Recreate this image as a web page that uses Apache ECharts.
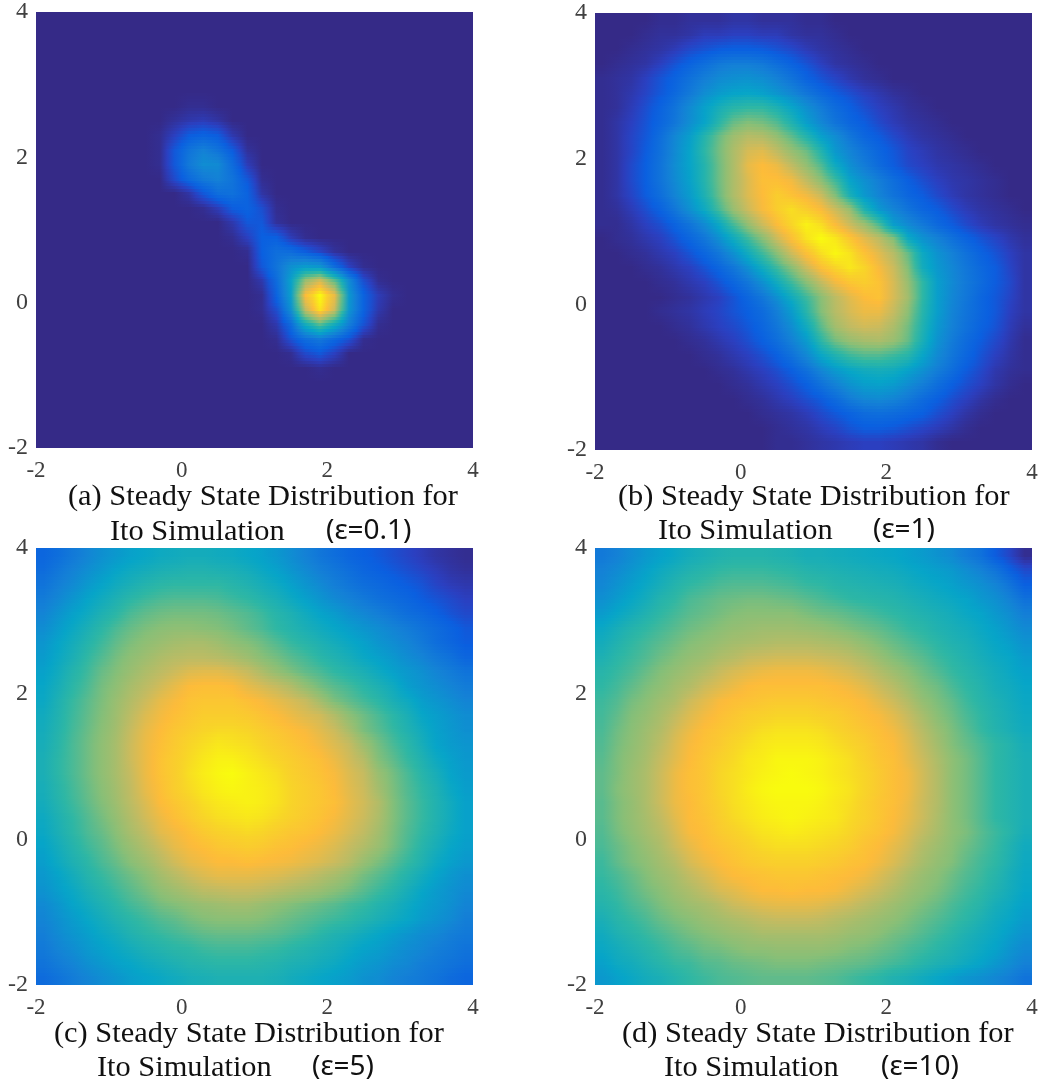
<!DOCTYPE html>
<html><head><meta charset="utf-8">
<style>html,body{margin:0;padding:0;background:#fff}#c{width:1042px;height:1085px}</style>
<script src="https://cdn.jsdelivr.net/npm/echarts@6/dist/echarts.min.js"></script>
</head><body><div id="c"></div>
<script>
const xCenters=[-1.9,-1.7,-1.5,-1.3,-1.1,-0.9,-0.7,-0.5,-0.3,-0.1,0.1,0.3,0.5,0.7,0.9,1.1,1.3,1.5,1.7,1.9,2.1,2.3,2.5,2.7,2.9,3.1,3.3,3.5,3.7,3.9];
const yCenters=[3.9,3.7,3.5,3.3,3.1,2.9,2.7,2.5,2.3,2.1,1.9,1.7,1.5,1.3,1.1,0.9,0.7,0.5,0.3,0.1,-0.1,-0.3,-0.5,-0.7,-0.9,-1.1,-1.3,-1.5,-1.7,-1.9];
const tickLabels=[-2,0,2,4];
const captionLine1=["(a) Steady State Distribution for","(b) Steady State Distribution for","(c) Steady State Distribution for","(d) Steady State Distribution for"];
const captionLine2="Ito Simulation";
const captionEps=["(ε=0.1)","(ε=1)","(ε=5)","(ε=10)"];
const panelA=[
[0,0,0,0,0,0,0,0,0,0,0,0,0,0,0,0,0,0,0,0,0,0,0,0,0,0,0,0,0,0],
[0,0,0,0,0,0,0,0,0,0,0,0,0,0,0,0,0,0,0,0,0,0,0,0,0,0,0,0,0,0],
[0,0,0,0,0,0,0,0,0,0,0,0,0,0,0,0,0,0,0,0,0,0,0,0,0,0,0,0,0,0],
[0,0,0,0,0,0,0,0,0,0,0,0,0,0,0,0,0,0,0,0,0,0,0,0,0,0,0,0,0,0],
[0,0,0,0,0,0,0,0,0,0,0,0,0,0,0,0,0,0,0,0,0,0,0,0,0,0,0,0,0,0],
[0,0,0,0,0,0,0,0,0,0,0,0,0,0,0,0,0,0,0,0,0,0,0,0,0,0,0,0,0,0],
[0,0,0,0,0,0,0,0,0,0,1,1,0,0,0,0,0,0,0,0,0,0,0,0,0,0,0,0,0,0],
[0,0,0,0,0,0,0,0,0,2,4,5,3,0,0,0,0,0,0,0,0,0,0,0,0,0,0,0,0,0],
[0,0,0,0,0,0,0,0,1,6,12,14,12,4,0,0,0,0,0,0,0,0,0,0,0,0,0,0,0,0],
[0,0,0,0,0,0,0,0,1,11,20,25,20,12,2,0,0,0,0,0,0,0,0,0,0,0,0,0,0,0],
[0,0,0,0,0,0,0,0,1,11,22,29,28,17,5,0,0,0,0,0,0,0,0,0,0,0,0,0,0,0],
[0,0,0,0,0,0,0,0,0,8,16,22,25,20,11,1,0,0,0,0,0,0,0,0,0,0,0,0,0,0],
[0,0,0,0,0,0,0,0,0,0,3,11,18,19,14,3,0,0,0,0,0,0,0,0,0,0,0,0,0,0],
[0,0,0,0,0,0,0,0,0,0,0,1,5,12,14,9,1,0,0,0,0,0,0,0,0,0,0,0,0,0],
[0,0,0,0,0,0,0,0,0,0,0,0,0,4,11,11,2,0,0,0,0,0,0,0,0,0,0,0,0,0],
[0,0,0,0,0,0,0,0,0,0,0,0,0,1,6,13,13,5,1,0,0,0,0,0,0,0,0,0,0,0],
[0,0,0,0,0,0,0,0,0,0,0,0,0,0,1,13,18,17,12,7,2,0,0,0,0,0,0,0,0,0],
[0,0,0,0,0,0,0,0,0,0,0,0,0,0,0,11,20,30,34,32,17,6,1,0,0,0,0,0,0,0],
[0,0,0,0,0,0,0,0,0,0,0,0,0,0,0,4,17,36,66,77,56,28,9,1,0,0,0,0,0,0],
[0,0,0,0,0,0,0,0,0,0,0,0,0,0,0,1,14,35,85,100,82,33,14,5,1,0,0,0,0,0],
[0,0,0,0,0,0,0,0,0,0,0,0,0,0,0,1,9,30,74,95,76,32,14,4,0,0,0,0,0,0],
[0,0,0,0,0,0,0,0,0,0,0,0,0,0,0,0,4,17,42,56,42,24,10,1,0,0,0,0,0,0],
[0,0,0,0,0,0,0,0,0,0,0,0,0,0,0,0,1,10,18,22,16,10,1,0,0,0,0,0,0,0],
[0,0,0,0,0,0,0,0,0,0,0,0,0,0,0,0,0,1,8,11,6,0,0,0,0,0,0,0,0,0],
[0,0,0,0,0,0,0,0,0,0,0,0,0,0,0,0,0,0,0,1,0,0,0,0,0,0,0,0,0,0],
[0,0,0,0,0,0,0,0,0,0,0,0,0,0,0,0,0,0,0,0,0,0,0,0,0,0,0,0,0,0],
[0,0,0,0,0,0,0,0,0,0,0,0,0,0,0,0,0,0,0,0,0,0,0,0,0,0,0,0,0,0],
[0,0,0,0,0,0,0,0,0,0,0,0,0,0,0,0,0,0,0,0,0,0,0,0,0,0,0,0,0,0],
[0,0,0,0,0,0,0,0,0,0,0,0,0,0,0,0,0,0,0,0,0,0,0,0,0,0,0,0,0,0],
[0,0,0,0,0,0,0,0,0,0,0,0,0,0,0,0,0,0,0,0,0,0,0,0,0,0,0,0,0,0]];
const panelB=[
[0,0,0,0,1,1,2,2,2,3,3,2,2,2,1,1,0,0,0,0,0,0,0,0,0,0,0,0,0,0],
[0,0,0,1,2,2,3,5,5,6,6,5,5,3,2,2,1,0,0,0,0,0,0,0,0,0,0,0,0,0],
[0,0,1,2,3,5,8,10,12,13,13,12,10,8,5,3,2,1,0,0,0,0,0,0,0,0,0,0,0,0],
[0,1,2,3,6,10,14,18,22,24,24,22,18,14,10,6,3,2,1,0,0,0,0,0,0,0,0,0,0,0],
[1,2,3,6,10,14,19,24,28,30,31,29,25,20,14,10,7,4,2,1,0,0,0,0,0,0,0,0,0,0],
[1,2,4,7,11,16,22,29,34,37,38,36,32,27,21,16,12,9,6,4,2,1,0,0,0,0,0,0,0,0],
[1,2,5,9,14,20,28,36,43,48,50,50,45,38,30,23,17,13,9,6,4,2,1,0,0,0,0,0,0,0],
[1,3,6,10,15,21,29,37,48,58,62,60,55,46,35,27,20,15,12,8,5,3,2,1,0,0,0,0,0,0],
[1,3,7,11,18,27,35,47,58,67,72,71,65,57,47,36,29,21,15,12,8,5,3,2,1,0,0,0,0,0],
[1,3,7,12,19,28,37,49,60,70,78,80,74,66,59,47,33,26,20,15,11,7,5,3,2,1,0,0,0,0],
[1,3,8,13,20,29,37,47,59,70,81,85,82,74,65,55,40,30,23,17,12,8,6,4,3,2,1,0,0,0],
[1,3,8,13,20,28,36,47,59,70,79,86,86,83,74,64,52,37,30,24,18,13,9,6,4,3,2,1,0,0],
[1,3,7,12,18,26,34,45,58,70,79,85,90,87,83,76,62,44,33,26,20,15,12,8,5,3,2,1,0,0],
[1,2,5,9,14,21,30,40,53,66,76,84,90,94,90,85,76,66,46,33,26,20,15,12,8,5,3,2,1,0],
[1,1,3,6,9,14,20,28,39,53,65,76,85,92,98,94,85,76,67,54,35,28,22,16,12,8,5,3,2,1],
[0,1,2,4,6,10,15,21,30,41,52,63,76,86,95,100,96,88,80,73,62,40,31,25,19,14,10,7,4,2],
[0,0,1,2,4,6,10,15,21,30,41,52,63,76,86,94,99,95,87,80,72,58,40,31,25,19,14,10,6,3],
[0,0,0,1,2,4,6,10,15,21,30,41,52,63,76,86,92,96,92,84,76,62,42,33,27,21,16,12,7,3],
[0,0,0,0,1,2,4,6,10,15,21,30,41,52,63,74,83,88,90,87,78,66,50,35,28,22,17,12,8,3],
[0,0,0,0,0,1,2,4,6,10,15,21,30,41,52,63,73,80,85,87,78,68,50,35,27,21,15,11,7,3],
[0,0,0,0,1,2,3,5,7,10,13,17,24,34,48,62,72,78,82,82,75,64,48,35,26,20,15,11,6,3],
[0,0,0,0,0,1,2,4,6,8,11,15,21,29,41,56,68,74,77,76,70,60,46,33,25,19,14,10,5,2],
[0,0,0,0,0,0,1,2,4,6,9,13,18,25,34,49,60,66,69,70,66,58,44,31,23,17,12,8,4,1],
[0,0,0,0,0,0,0,1,2,4,6,9,13,19,27,38,46,52,55,55,52,48,38,28,21,15,10,6,3,1],
[0,0,0,0,0,0,0,0,1,2,4,6,9,13,19,27,34,39,42,43,42,37,31,24,18,12,8,4,2,1],
[0,0,0,0,0,0,0,0,0,1,2,4,6,9,13,19,25,31,35,36,34,29,24,18,13,9,6,3,1,0],
[0,0,0,0,0,0,0,0,0,0,1,2,4,6,9,12,17,23,27,28,26,22,17,13,9,6,3,1,0,0],
[0,0,0,0,0,0,0,0,0,0,0,1,2,3,5,8,11,14,17,18,17,15,13,9,6,3,1,0,0,0],
[0,0,0,0,0,0,0,0,0,0,0,0,1,2,3,5,7,10,12,12,11,9,7,5,3,1,0,0,0,0],
[0,0,0,0,0,0,0,0,0,0,0,0,1,1,2,3,4,5,6,6,5,4,3,1,0,0,0,0,0,0]];
const panelC=[
[15,18,22,26,30,33,36,38,40,41,42,42,41,40,38,36,33,29,25,21,18,15,13,11,9,7,5,3,2,1],
[17,21,25,29,33,37,40,42,44,45,46,46,45,44,42,39,36,32,28,24,21,18,15,13,11,9,7,5,3,2],
[20,24,28,33,37,41,44,47,49,50,50,50,50,48,46,43,40,36,32,28,24,21,18,16,14,12,10,7,5,4],
[23,27,32,37,41,45,49,52,54,55,55,55,54,52,50,47,44,40,36,32,28,25,22,19,17,15,12,10,8,6],
[26,31,36,40,45,49,54,57,59,60,60,60,59,57,55,52,48,45,41,37,34,30,27,24,21,18,16,13,10,8],
[29,34,39,44,49,54,58,61,63,64,64,63,62,60,57,54,50,47,44,41,38,35,32,29,26,23,20,17,14,11],
[32,37,42,47,52,57,61,64,66,68,69,69,67,64,62,59,55,51,48,45,42,39,36,32,29,26,22,18,15,12],
[34,39,44,50,55,60,64,67,70,72,73,73,72,70,67,63,60,56,53,49,46,43,39,36,33,29,26,22,19,15],
[36,41,47,52,58,62,66,70,73,76,79,80,80,78,75,70,65,61,57,54,50,47,44,40,36,33,30,26,23,20],
[38,43,49,54,60,64,69,73,77,81,85,86,86,85,81,78,75,71,65,60,56,53,49,45,41,35,32,29,26,23],
[39,45,51,56,61,66,71,76,81,84,87,88,88,88,86,84,81,78,75,68,61,57,53,49,44,40,35,32,29,26],
[41,46,52,57,62,67,73,79,83,86,88,90,90,90,89,87,85,82,79,77,71,64,59,54,49,44,38,35,32,29],
[42,47,53,58,63,68,75,81,85,88,90,92,93,93,92,90,88,86,84,80,76,69,61,56,51,46,41,36,33,30],
[43,48,54,59,64,69,76,82,86,89,92,94,96,95,94,92,90,88,86,83,79,75,67,60,54,49,43,37,34,32],
[44,49,54,59,64,69,76,82,87,90,93,96,98,98,96,94,92,90,88,86,82,77,72,62,57,51,46,40,36,33],
[44,49,54,59,64,69,75,82,87,90,94,97,99,100,98,96,94,91,89,87,84,79,75,66,60,54,48,43,37,34],
[43,48,53,58,63,68,74,81,86,90,93,96,98,99,98,97,95,92,90,88,85,80,76,68,61,55,50,45,39,35],
[42,47,52,57,62,67,73,79,85,88,91,94,96,97,98,97,95,92,90,88,86,81,77,71,62,56,51,46,41,36],
[40,45,50,55,60,65,71,77,82,86,89,92,94,95,96,95,93,91,89,87,84,80,76,70,62,56,51,46,41,36],
[39,44,49,54,58,63,69,74,80,83,86,89,91,92,93,92,90,88,87,85,82,78,74,68,61,55,50,45,40,36],
[37,42,47,52,56,61,66,71,76,81,84,86,88,89,90,89,87,86,84,82,79,75,71,66,60,54,48,43,38,35],
[35,40,45,49,54,58,63,67,72,77,81,83,85,85,86,85,84,83,81,79,76,72,66,61,56,51,46,40,36,33],
[33,37,42,47,51,55,59,63,68,72,76,79,81,81,81,80,79,77,75,72,69,65,60,56,52,47,42,37,33,30],
[31,35,39,44,48,52,56,60,64,67,70,73,74,75,75,74,72,70,68,66,63,60,56,52,48,43,38,34,31,28],
[28,32,37,41,45,49,53,56,60,62,64,66,67,68,68,66,64,62,60,58,56,53,51,47,44,40,36,33,30,26],
[26,30,34,38,42,46,49,52,55,57,60,62,63,63,63,62,60,58,56,54,52,50,47,44,41,38,34,31,28,24],
[24,28,32,35,39,42,46,49,51,53,55,57,58,58,58,57,56,54,52,49,46,44,41,38,35,32,29,27,24,22],
[22,26,29,33,36,39,42,45,47,49,50,52,53,53,53,52,51,49,47,45,43,40,37,35,32,29,27,24,22,20],
[20,23,26,30,33,36,38,41,43,45,47,48,49,49,49,48,47,45,44,42,40,37,34,32,29,27,24,22,20,18],
[17,20,23,26,29,32,35,37,39,41,43,44,45,45,45,45,44,42,40,38,36,34,31,29,26,24,22,20,17,15]];
const panelD=[
[22,25,29,33,36,39,42,44,46,47,47,47,46,45,43,43,42,41,40,39,38,36,34,31,28,23,19,12,7,1],
[25,28,32,36,40,43,46,48,50,51,51,51,50,49,47,46,45,44,43,42,41,39,37,35,33,29,25,20,13,8],
[27,31,35,39,43,47,50,52,54,55,55,55,54,53,51,50,48,47,46,45,44,42,40,38,36,33,30,26,20,13],
[30,34,38,42,47,50,54,56,58,59,60,60,59,58,56,54,52,50,49,48,47,45,43,41,39,37,33,30,25,19],
[34,38,42,46,50,53,56,58,60,62,63,63,63,63,61,59,58,56,54,52,50,48,46,44,42,39,37,33,29,24],
[39,43,47,50,53,56,59,61,63,65,66,67,67,67,66,65,63,61,59,57,54,51,49,46,44,42,39,36,32,28],
[42,46,50,53,56,59,62,64,66,68,69,70,71,71,71,70,69,67,64,61,58,55,52,49,46,44,41,38,35,31],
[45,49,52,55,59,62,65,67,70,72,75,76,77,77,77,76,75,73,70,66,62,59,56,52,49,46,43,40,38,34],
[48,51,54,58,62,65,68,71,75,78,80,82,83,83,83,82,80,78,75,71,67,63,59,55,51,48,45,42,39,36],
[50,53,57,61,64,68,71,76,79,82,85,86,86,86,86,86,85,83,80,76,72,67,62,59,54,50,47,43,41,38],
[52,55,60,63,67,70,76,80,84,86,87,88,89,89,89,88,87,86,84,80,76,71,65,61,57,52,48,45,42,39],
[53,57,62,65,69,74,79,83,86,88,90,91,92,92,92,91,90,88,86,84,80,75,69,63,59,54,50,46,43,40],
[54,59,63,67,71,77,82,86,88,90,92,94,95,95,95,94,92,90,88,86,83,78,72,66,61,56,51,47,44,41],
[55,60,64,68,73,79,84,87,89,92,94,96,97,97,97,96,94,92,90,87,85,80,74,68,62,58,54,50,47,43],
[56,61,65,69,75,80,85,88,91,93,96,97,99,99,99,98,96,94,91,88,86,81,76,70,64,60,55,50,47,44],
[57,61,66,70,76,82,86,88,92,94,96,98,99,100,99,98,96,94,92,89,86,83,77,71,64,60,55,50,47,44],
[57,62,66,70,76,82,86,88,92,94,97,99,100,100,100,99,97,95,92,89,86,83,77,71,64,60,55,50,47,44],
[56,61,65,70,76,82,85,88,91,94,96,98,99,99,99,98,96,94,91,88,86,82,76,71,64,60,55,50,47,44],
[56,61,65,69,74,80,85,87,90,93,95,97,98,99,98,97,96,93,91,88,85,81,76,70,64,60,55,50,47,44],
[55,60,64,68,72,78,84,86,89,91,93,95,96,97,96,95,94,92,89,87,84,79,74,69,64,61,56,52,48,43],
[54,58,62,66,70,76,81,85,87,89,91,93,94,94,94,93,92,90,87,85,81,77,71,67,63,59,55,51,46,41],
[52,57,61,64,68,72,78,82,85,87,89,90,91,91,91,90,89,87,86,83,79,74,69,65,62,57,53,50,45,40],
[51,54,58,62,66,69,74,78,82,85,86,87,88,88,88,87,86,85,83,79,75,70,66,63,59,55,52,48,43,39],
[49,52,56,60,63,67,70,74,78,80,83,85,85,86,85,85,84,81,78,75,71,67,64,61,57,53,50,46,42,38],
[47,50,54,57,61,64,67,69,72,76,78,80,81,81,81,80,78,76,73,70,67,64,61,58,54,51,48,43,40,36],
[44,48,51,54,58,61,63,66,68,70,72,74,75,75,75,74,72,70,68,66,64,61,58,55,52,49,45,41,38,34],
[41,45,48,51,54,57,60,62,64,66,67,69,69,69,69,69,68,66,65,63,60,58,55,52,49,45,42,39,35,31],
[39,42,45,48,51,54,56,59,60,62,64,64,65,65,65,65,64,62,61,59,57,54,52,49,46,43,40,37,32,28],
[36,40,42,45,48,51,52,55,56,58,59,60,61,61,61,60,59,58,57,55,53,51,48,45,43,40,37,33,29,25],
[33,36,39,42,44,47,50,52,54,55,56,57,57,57,57,56,55,53,51,49,46,44,41,38,35,32,30,27,24,20]];
const parula=[[0,'#352a87'],[0.06,'#2b3fc0'],[0.125,'#0a5fe0'],[0.25,'#1481d6'],[0.375,'#06a5c8'],[0.5,'#2eb7a4'],[0.625,'#87bf77'],[0.75,'#c6bb60'],[0.85,'#fdbb3a'],[0.92,'#f8d428'],[1,'#f9fb0e']];
const panels=[panelA,panelB,panelC,panelD];
const boxes=[
 {left:36,top:11,size:437},{left:595,top:13,size:437},
 {left:36,top:548,size:437},{left:595,top:548,size:437}];
const textPos=[
 {l1:[68,482],l2:[110,517],e:[326,517],},{l1:[618,482],l2:[658,516],e:[873,516]},
 {l1:[54,1019],l2:[97,1053],e:[312,1053]},{l1:[622,1019],l2:[664,1053],e:[881,1053]}];
const serif='"Liberation Serif","Times New Roman",serif';
function hex(h){return [1,3,5].map(i=>parseInt(h.substr(i,2),16));}
function colorAt(t){
  for(let i=1;i<parula.length;i++){
    if(t<=parula[i][0]){
      const a=parula[i-1],b=parula[i],f=(t-a[0])/(b[0]-a[0]),ca=hex(a[1]),cb=hex(b[1]);
      return 'rgb('+ca.map((v,k)=>Math.round(v+(cb[k]-v)*f)).join(',')+')';
    }
  }
  return parula[parula.length-1][1];
}
// shaded rendering of the read grid (like MATLAB's "shading interp"): colour is blended between grid nodes on the canvas
function shade(rows,u,v){
  const n=rows.length-1,m=rows[0].length-1;
  u=Math.min(m,Math.max(0,u));v=Math.min(n,Math.max(0,v));
  const i=Math.min(m-1,Math.floor(u)),j=Math.min(n-1,Math.floor(v)),fu=u-i,fv=v-j;
  return ((rows[j][i]*(1-fu)+rows[j][i+1]*fu)*(1-fv)+(rows[j+1][i]*(1-fu)+rows[j+1][i+1]*fu)*fv)/100;
}
const STRIPS=5;
function makeRender(rows){
  return function(params,api){
    const x=api.value(0),y=api.value(1),i=api.value(3),j=api.value(4);
    const left=Math.round(api.coord([+(x-0.1).toFixed(1),y])[0]),right=Math.round(api.coord([+(x+0.1).toFixed(1),y])[0]);
    const top=api.coord([x,+(y+0.1).toFixed(1)])[1],bot=api.coord([x,+(y-0.1).toFixed(1)])[1];
    const children=[];
    for(let k=0;k<STRIPS;k++){
      const y0=Math.round(top+(bot-top)*k/STRIPS),y1=Math.round(top+(bot-top)*(k+1)/STRIPS);
      const v=j+(k+0.5)/STRIPS-0.5;
      children.push({type:'rect',shape:{x:left,y:y0,width:right-left,height:y1-y0},
        style:{fill:{type:'linear',x:0,y:0,x2:1,y2:0,colorStops:[
          {offset:0,color:colorAt(shade(rows,i-0.5,v))},
          {offset:0.5,color:colorAt(shade(rows,i,v))},
          {offset:1,color:colorAt(shade(rows,i+0.5,v))}]}}});
    }
    return {type:'group',children};
  };
}
const grid=[],xAxis=[],yAxis=[],series=[],title=[];
panels.forEach((rows,p)=>{
  const b=boxes[p];
  grid.push({left:b.left,top:b.top,width:b.size,height:b.size});
  const off={axisLine:{show:false},axisTick:{show:false},splitLine:{show:false}};
  xAxis.push({type:'value',gridIndex:p,min:-2,max:4,interval:2,...off,axisLabel:{color:'#404040',fontFamily:serif,fontSize:23,margin:11}});
  yAxis.push({type:'value',gridIndex:p,min:-2,max:4,interval:2,...off,axisLabel:{color:'#404040',fontFamily:serif,fontSize:24,margin:8}});
  const data=[];
  rows.forEach((r,j)=>r.forEach((v,i)=>data.push([xCenters[i],yCenters[j],v,i,j])));
  series.push({type:'custom',xAxisIndex:p,yAxisIndex:p,data,renderItem:makeRender(rows),encode:{x:0,y:1},silent:true,animation:false,progressive:0});
  const t=textPos[p];
  const tx=(text,pos,fam,size)=>({text,left:pos[0],top:pos[1],padding:0,textStyle:{fontFamily:fam,fontWeight:'normal',fontSize:size,color:'#111'}});
  title.push(tx(captionLine1[p],t.l1,serif,30.4));
  title.push(tx(captionLine2,t.l2,serif,30.4));
  title.push(tx(captionEps[p],t.e,'"Noto Sans",sans-serif',28));
});
const chart=echarts.init(document.getElementById('c'),null,{renderer:'canvas'});
chart.setOption({animation:false,backgroundColor:'#fff',title,grid,xAxis,yAxis,series});
</script></body></html>
